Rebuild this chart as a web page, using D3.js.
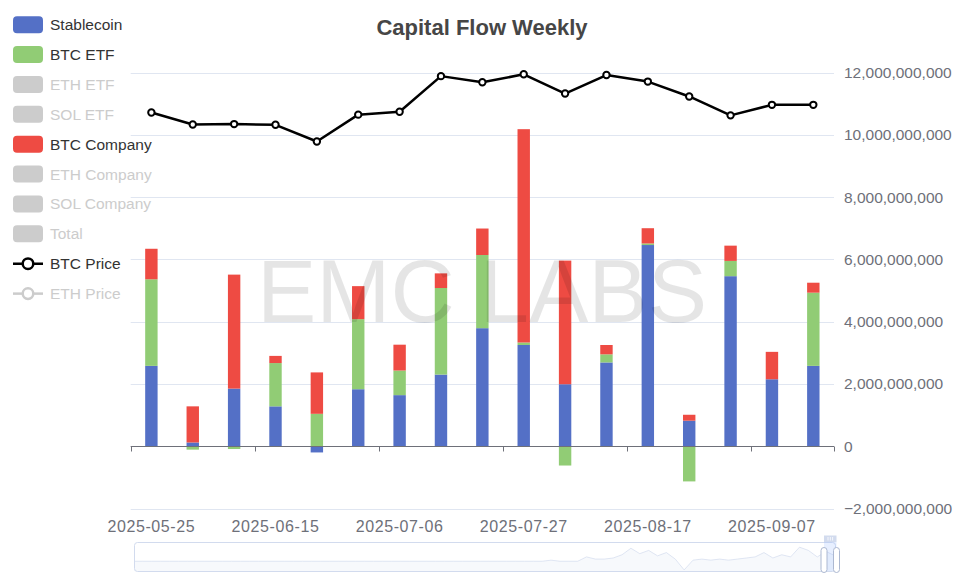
<!DOCTYPE html>
<html><head><meta charset="utf-8">
<script src="https://cdn.jsdelivr.net/npm/d3@7"></script>
<style>html,body{margin:0;padding:0;background:#fff;} svg{display:block;font-family:"Liberation Sans",Arial,sans-serif;}</style>
</head><body><svg id="chart" width="964" height="582"></svg>
<script>
// ---------- data ----------
const categories = ["2025-05-25","2025-06-01","2025-06-08","2025-06-15","2025-06-22","2025-06-29","2025-07-06","2025-07-13","2025-07-20","2025-07-27","2025-08-03","2025-08-10","2025-08-17","2025-08-24","2025-08-31","2025-09-07","2025-09-14"];
const stablecoin = [2.58e9, 0.12e9, 1.85e9, 1.28e9, -0.20e9, 1.83e9, 1.64e9, 2.30e9, 3.79e9, 3.25e9, 1.99e9, 2.69e9, 6.46e9, 0.82e9, 5.46e9, 2.15e9, 2.58e9];
const btcEtf = [2.78e9, -0.11e9, -0.09e9, 1.39e9, 1.04e9, 2.25e9, 0.79e9, 2.78e9, 2.35e9, 0.08e9, -0.62e9, 0.26e9, 0.05e9, -1.13e9, 0.49e9, 0, 2.35e9];
const btcCompany = [0.98e9, 1.16e9, 3.66e9, 0.23e9, 1.33e9, 1.06e9, 0.83e9, 0.47e9, 0.85e9, 6.85e9, 3.97e9, 0.30e9, 0.49e9, 0.19e9, 0.49e9, 0.88e9, 0.32e9];
const btcPrice = [109000, 105700, 105800, 105600, 101000, 108400, 109200, 119000, 117300, 119500, 114200, 119300, 117500, 113400, 108200, 111100, 111100];
const yTicks = [-2e9, 0, 2e9, 4e9, 6e9, 8e9, 10e9, 12e9];
const legendNames = ["Stablecoin","BTC ETF","ETH ETF","SOL ETF","BTC Company","ETH Company","SOL Company","Total","BTC Price","ETH Price"];
const legendActive = ["Stablecoin","BTC ETF","BTC Company","BTC Price"];
const lineLegend = ["BTC Price","ETH Price"];
const sliderShadow = [0,0,0,0,0,0,0,0,0,0, 0,0,0,0,0,0,0,0,0,0, 0,0,0,0,0,0,0,0,0,0, 0,0,0,0,0,0,0,0,0,0, 0,0,0,0,0,0,0,1,0,0,
  0,4,2,2,3,6,12,7,10,5, 8,2,-8,1,2,1,2,1,2,3, 4,8,3,6,4,13,10,4,9,5];
const seriesColors = {"Stablecoin":"#5470c6","BTC ETF":"#91cc75","BTC Company":"#ee4b43","BTC Price":"#000"};

// ---------- layout ----------
const svg = d3.select("#chart");
const grid = {left:130.7, right:834, top:72.5, bottom:508.5};
const x = d3.scaleBand().domain(categories).range([grid.left, grid.right]).padding(0);
const y = d3.scaleLinear().domain([-2e9, 12e9]).range([grid.bottom, grid.top]);
const yPrice = d3.scaleLinear().domain([0, 120000]).range([grid.bottom, grid.top]);
const fmt = d3.format(",");

// title
svg.append("text").attr("x",482).attr("y",34.5).attr("text-anchor","middle")
  .attr("font-size",22).attr("font-weight","bold").attr("fill","#464646").text("Capital Flow Weekly");

// grid lines
svg.append("g").selectAll("line").data(yTicks).join("line")
  .attr("x1",grid.left).attr("x2",grid.right)
  .attr("y1",d=>Math.round(y(d))+0.5).attr("y2",d=>Math.round(y(d))+0.5)
  .attr("stroke","#e0e6f1").attr("stroke-width",1);

// right axis labels
svg.append("g").selectAll("text").data(yTicks).join("text")
  .attr("x",844).attr("y",d=>y(d)+5.5).attr("font-size",15.5).attr("fill","#6e7079")
  .text(d=>fmt(d).replace("-","\u2212"));

// stacked bars
const stackSeries = [["Stablecoin",stablecoin],["BTC ETF",btcEtf],["BTC Company",btcCompany]];
const posAcc = categories.map(()=>0), negAcc = categories.map(()=>0);
const bw = x.bandwidth()*0.3;
const barG = svg.append("g");
stackSeries.forEach(([name,vals])=>{
  const rects = vals.map((v,i)=>{
    let y0, y1;
    if (v >= 0) { y0 = posAcc[i]; y1 = posAcc[i] + v; posAcc[i] = y1; }
    else { y0 = negAcc[i]; y1 = negAcc[i] + v; negAcc[i] = y1; }
    return {i, y0, y1, v};
  }).filter(d=>d.v!==0);
  barG.selectAll(null).data(rects).join("rect")
    .attr("x",d=>x(categories[d.i]) + x.bandwidth()/2 - bw/2)
    .attr("width",bw)
    .attr("y",d=>Math.min(y(d.y0),y(d.y1)))
    .attr("height",d=>Math.abs(y(d.y0)-y(d.y1)))
    .attr("fill",seriesColors[name]);
});

// x axis
const y0px = Math.round(y(0))+0.5;
svg.append("line").attr("x1",grid.left).attr("x2",grid.right).attr("y1",y0px).attr("y2",y0px)
  .attr("stroke","#6e7079").attr("stroke-width",1);
const tickIdx = categories.map((c,i)=>i).filter(i=>i%3===0);
const tickXs = tickIdx.map(i=>x(categories[i])).concat([grid.right]);
svg.append("g").selectAll("line").data(tickXs).join("line")
  .attr("x1",d=>Math.round(d)+0.5).attr("x2",d=>Math.round(d)+0.5)
  .attr("y1",y0px).attr("y2",y0px+5).attr("stroke","#6e7079");
svg.append("g").selectAll("text").data(tickIdx).join("text")
  .attr("x",i=>x(categories[i])+x.bandwidth()/2).attr("y",532.3)
  .attr("text-anchor","middle").attr("font-size",16).attr("letter-spacing","0.6px")
  .attr("fill","#6e7079").text(i=>categories[i]);

// price line
const line = d3.line().x((d,i)=>x(categories[i])+x.bandwidth()/2).y(d=>yPrice(d));
svg.append("path").datum(btcPrice).attr("d",line).attr("fill","none")
  .attr("stroke","#000").attr("stroke-width",2.5).attr("stroke-linejoin","round");
svg.append("g").selectAll("circle").data(btcPrice).join("circle")
  .attr("cx",(d,i)=>x(categories[i])+x.bandwidth()/2).attr("cy",d=>yPrice(d))
  .attr("r",3.2).attr("fill","#fff").attr("stroke","#000").attr("stroke-width",2);

// watermark
svg.append("text").attr("x",482).attr("y",322).attr("text-anchor","middle")
  .attr("font-size",89).attr("fill","rgba(0,0,0,0.1)").text("EMC LABS");

// legend
const lg = svg.append("g");
legendNames.forEach((name,i)=>{
  const cy = 24.7 + i*29.88;
  const active = legendActive.includes(name);
  const col = active ? (seriesColors[name]) : "#ccc";
  if (lineLegend.includes(name)) {
    lg.append("line").attr("x1",13).attr("x2",43).attr("y1",cy).attr("y2",cy)
      .attr("stroke",col).attr("stroke-width",2.5);
    lg.append("circle").attr("cx",28).attr("cy",cy).attr("r",5.3)
      .attr("fill","#fff").attr("stroke",col).attr("stroke-width",2.5);
  } else {
    lg.append("rect").attr("x",13).attr("y",cy-8.5).attr("width",30).attr("height",17)
      .attr("rx",4).attr("fill",col);
  }
  lg.append("text").attr("x",50).attr("y",cy+5.5).attr("font-size",15.5)
    .attr("fill",active?"#333":"#ccc").text(name);
});

// data zoom slider
const sl = {left:134, right:835, top:542, bottom:571};
const sx = d3.scaleLinear().domain([0, sliderShadow.length-1]).range([sl.left, sl.right]);
const sy = d3.scaleLinear().domain([-9, 15]).range([sl.bottom, 545]);
const sg = svg.append("g");
sg.append("path").datum(sliderShadow)
  .attr("d", d3.area().x((d,i)=>sx(i)).y0(sl.bottom).y1(d=>sy(d)))
  .attr("fill","#d2dbee").attr("fill-opacity",0.18);
sg.append("path").datum(sliderShadow)
  .attr("d", d3.line().x((d,i)=>sx(i)).y(d=>sy(d)))
  .attr("fill","none").attr("stroke","#d2dbee").attr("stroke-width",0.7);
sg.append("rect").attr("x",sl.left+0.5).attr("y",sl.top+0.5).attr("width",sl.right-sl.left)
  .attr("height",sl.bottom-sl.top).attr("rx",3).attr("fill","none").attr("stroke","#d2dbee");
sg.append("rect").attr("x",824).attr("y",sl.top).attr("width",12.5).attr("height",sl.bottom-sl.top)
  .attr("fill","rgba(135,175,274,0.2)");
sg.append("rect").attr("x",824).attr("y",535.5).attr("width",12.5).attr("height",6.5)
  .attr("fill","#d2dbee");
[828,830.3,832.6].forEach(px=>sg.append("line").attr("x1",px).attr("x2",px).attr("y1",537).attr("y2",540.5)
  .attr("stroke","#fff").attr("stroke-width",0.8));
[824,836.5].forEach(hx=>{
  sg.append("rect").attr("x",hx-3).attr("y",547.5).attr("width",6).attr("height",25)
    .attr("rx",3).attr("fill","#fff").attr("stroke","#acb8d1").attr("stroke-width",1);
});
</script></body></html>
